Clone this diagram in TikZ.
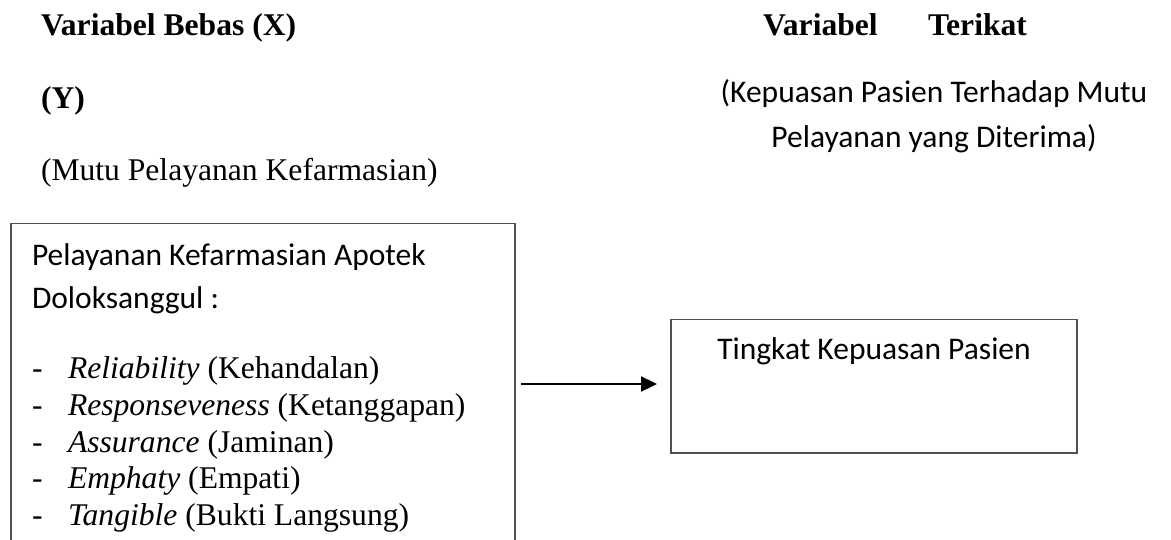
\documentclass[tikz,border=0pt]{standalone}
\usepackage{fontspec}
\setmainfont{Liberation Serif}
\newfontfamily\calfont{Carlito}
\usetikzlibrary{arrows.meta,calc}
\definecolor{boxgray}{RGB}{80,80,80}
\begin{document}
\begin{tikzpicture}[x=1pt,y=-1pt,
  every node/.style={inner sep=0pt,outer sep=0pt},
  tbold/.style={anchor=base west,font=\fontsize{31.6pt}{38pt}\selectfont\bfseries},
  treg/.style={anchor=base west,font=\fontsize{31.6pt}{38pt}\selectfont},
  cal/.style={font=\fontsize{31.5pt}{38pt}\selectfont\calfont},
  frame/.style={draw=boxgray,line width=1.3pt,rectangle,anchor=north west},
  arr/.style={line width=2.3pt,-{Triangle[length=16pt,width=15pt]}}]
\useasboundingbox (0,0) rectangle (1171,539);
\clip (0,0) rectangle (1171,539);
% titles
\node[tbold] (tx) at (41,35) {Variabel Bebas (X)};
\node[tbold] (ty) at (41,108) {(Y)};
\node[treg] (tm) at (41,180) {(Mutu Pelayanan Kefarmasian)};
\node[tbold] (tv) at (763,35) {Variabel};
\node[tbold] (tt) at (928,35) {Terikat};
\node[cal,anchor=base] (tk1) at (934,102) {(Kepuasan Pasien Terhadap Mutu};
\node[cal,anchor=base] (tk2) at (934,147) {Pelayanan yang Diterima)};
% boxes
\node[frame,minimum width=504pt,minimum height=380pt] (lbox) at (11,223.5) {};
\node[frame,minimum width=406pt,minimum height=133.5pt] (rbox) at (671,319.5) {};
% left box text
\node[cal,anchor=base west] (p1) at (32,265) {Pelayanan Kefarmasian Apotek};
\node[cal,anchor=base west] (p2) at (32,308) {Doloksanggul :};
\begin{scope}
\clip (0,0) rectangle (1171,532);
\node[treg] (d1) at (32,378) {-};
\node[treg] (i1) at (68,378) {\textit{Reliability} (Kehandalan)};
\node[treg] (d2) at (32,415) {-};
\node[treg] (i2) at (68,415) {\textit{Responseveness} (Ketanggapan)};
\node[treg] (d3) at (32,452) {-};
\node[treg] (i3) at (68,452) {\textit{Assurance} (Jaminan)};
\node[treg] (d4) at (32,488) {-};
\node[treg] (i4) at (68,488) {\textit{Emphaty} (Empati)};
\node[treg] (d5) at (32,525) {-};
\node[treg] (i5) at (68,525) {\textit{Tangible} (Bukti Langsung)};
\end{scope}
% right box text
\node[cal,anchor=base] (rt) at ($(rbox.north)+(0,39.5)$) {Tingkat Kepuasan Pasien};
% arrow
\coordinate (ay) at (0,384);
\draw[arr] ($(lbox.east |- ay)+(6,0)$) -- ($(rbox.west |- ay)+(-14,0)$);
\end{tikzpicture}
\end{document}
